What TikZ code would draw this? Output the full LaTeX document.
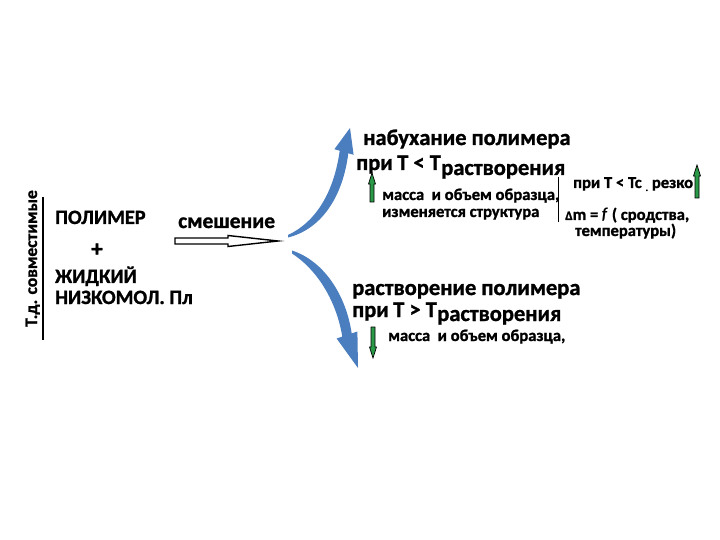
\documentclass[tikz,border=0pt]{standalone}
\usepackage{fontspec}
\setmainfont{Carlito}[BoldFeatures={FakeBold=1.2}]
\usetikzlibrary{calc}
\definecolor{arrowblue}{HTML}{4A7EBF}
\definecolor{arrowgreen}{HTML}{2A9A48}
\tikzset{
  txt/.style={inner sep=0, anchor=base west, font=\bfseries\fontsize{22.5bp}{25bp}\selectfont},
  mid/.style={inner sep=0, anchor=base west, font=\bfseries\fontsize{20.3bp}{22bp}\selectfont},
  sml/.style={inner sep=0, anchor=base west, font=\bfseries\fontsize{16.6bp}{19bp}\selectfont},
  blue arrow/.style={fill=arrowblue, draw=none},
  green arrow/.style={fill=arrowgreen, draw=black, line width=0.7bp, line join=miter},
  hollow arrow/.style={draw=black, fill=white, line width=1.4bp}
}
\begin{document}
\begin{tikzpicture}[x=1bp,y=-1bp]
\useasboundingbox[fill=white] (0,0) rectangle (720,540);

% left block
\node[sml, rotate=90, font=\bfseries\fontsize{17.5bp}{19bp}\selectfont] (td) at (37,327) {Т.д. совместимые};
\draw[line width=1.2bp] (43,197) -- (43,340);
\node[mid] (pol) at (55,224) {ПОЛИМЕР};
\node[inner sep=0, font=\bfseries\fontsize{23bp}{24bp}\selectfont] (plus) at (97,250) {+};
\node[mid] (zh) at (55,283) {ЖИДКИЙ};
\node[mid] (nz) at (55,304) {НИЗКОМОЛ. Пл};

% mixing
\node[txt, font=\bfseries\fontsize{21.5bp}{24bp}\selectfont] (mix) at (178,228) {смешение};
\draw[hollow arrow] (175,238) -- (228,238) -- (228,235.5) -- (278,241) -- (228,246.5) -- (228,244) -- (175,244) -- cycle;

% blue arrows
\fill[blue arrow] (288,237.5) .. controls (322,229) and (343,196) .. (348.3,153.3)
  -- (353.6,154.8) -- (350,128) -- (334.4,149.2) -- (339.7,150.7)
  .. controls (334,192) and (316,222) .. (288,235) -- cycle;
\fill[blue arrow] (292,250.5) .. controls (324,261) and (346,295) .. (351.7,333.4)
  -- (357.4,331.5) -- (358,368) -- (336.6,338.5) -- (342.3,336.6)
  .. controls (336,299) and (316,269) .. (292,253.5) -- cycle;

% upper branch
\node[txt] (sw1) at (363,145) {набухание полимера};
\node[txt] (pri1) at (356,170) {при};
\node[txt] (t1) at (397,170) {Т < Т};
\node[txt] (r1) at ($(t1.base east)+(0,5)$) {растворения};
\draw[green arrow] (370,202) -- (370,184) -- (368.5,184) -- (372,173) -- (375.5,184) -- (374,184) -- (374,202) -- cycle;
\node[sml] (m1) at (382,200) {масса\ \ и объем образца,};
\node[sml] (m2) at (382,217) {изменяется структура};
\draw[line width=1bp] (558,177) -- (558,222);
\node[sml] (r2) at (573,188) {при Т < Тс {\fontsize{10bp}{12bp}\selectfont\raisebox{-3bp}{.}} резко};
\draw[green arrow] (695,198) -- (695,176) -- (693.5,176) -- (697,165) -- (700.5,176) -- (699,176) -- (699,198) -- cycle;
\node[sml] (r3) at (565,220) {{\fontsize{13bp}{15bp}\selectfont Δ}m = \textit{f} ( сродства,};
\node[sml] (r4) at (575,236) {температуры)};

% lower branch
\node[txt] (sw2) at (352,295) {растворение полимера};
\node[txt] (pri2) at (352,317) {при};
\node[txt] (t2) at (393,317) {Т > Т};
\node[txt] (r5) at ($(t2.base east)+(0,4)$) {растворения};
\draw[green arrow] (371,327) -- (371,347) -- (369.5,347) -- (373,358) -- (376.5,347) -- (375,347) -- (375,327) -- cycle;
\node[sml] (m3) at (388,341) {масса\ \ и объем образца,};
\end{tikzpicture}
\end{document}
